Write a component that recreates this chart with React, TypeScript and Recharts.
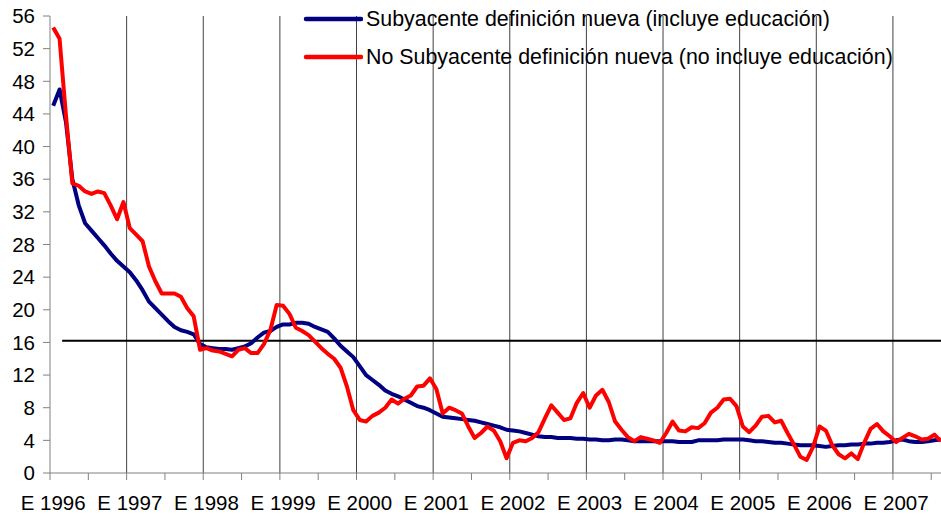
import { LineChart, Line, XAxis, YAxis, ReferenceLine, Legend } from 'recharts'

// Inflación anual (%), mensual desde enero 1996
const years = [1996, 1997, 1998, 1999, 2000, 2001, 2002, 2003, 2004, 2005, 2006, 2007]

const seriesNames = [
  'Subyacente definición nueva (incluye educación)',
  'No Subyacente definición nueva (no incluye educación)',
]

const subyacente = [
  45.0, 47.0, 43.0, 36.0, 32.8, 30.6, 29.7, 28.8, 27.9, 26.9, 26.0, 25.3,
  24.6, 23.6, 22.4, 21.0, 20.2, 19.4, 18.6, 17.9, 17.5, 17.3, 17.0, 15.8,
  15.4, 15.3, 15.2, 15.2, 15.1, 15.3, 15.5, 15.9, 16.6, 17.2, 17.4, 17.9,
  18.2, 18.2, 18.4, 18.4, 18.3, 17.9, 17.6, 17.3, 16.5, 15.6, 14.9, 14.2,
  13.1, 12.0, 11.4, 10.8, 10.1, 9.7, 9.4, 9.0, 8.6, 8.2, 8.0, 7.7,
  7.3, 6.9, 6.8, 6.7, 6.6, 6.5, 6.4, 6.2, 6.0, 5.8, 5.6, 5.3,
  5.2, 5.1, 4.9, 4.7, 4.5, 4.4, 4.4, 4.3, 4.3, 4.3, 4.2, 4.2,
  4.1, 4.1, 4.0, 4.0, 4.1, 4.1, 4.0, 3.9, 3.9, 3.9, 3.9, 3.9,
  3.9, 3.9, 3.8, 3.8, 3.8, 4.0, 4.0, 4.0, 4.0, 4.1, 4.1, 4.1,
  4.1, 4.0, 3.9, 3.9, 3.8, 3.7, 3.7, 3.6, 3.5, 3.4, 3.4, 3.4,
  3.3, 3.2, 3.3, 3.4, 3.4, 3.5, 3.5, 3.6, 3.6, 3.7, 3.7, 3.8,
  4.0, 4.1, 3.9, 3.8, 3.8, 3.9, 4.0, 4.1,
]

const noSubyacente = [
  54.6, 53.2, 43.8, 35.5, 35.2, 34.5, 34.2, 34.5, 34.3, 32.8, 31.1, 33.2,
  30.0, 29.2, 28.4, 25.3, 23.5, 22.0, 22.0, 22.0, 21.6, 20.2, 19.2, 15.1,
  15.3, 15.0, 14.9, 14.6, 14.3, 15.1, 15.3, 14.7, 14.7, 15.8, 17.5, 20.6,
  20.5, 19.5, 17.8, 17.4, 16.9, 16.1, 15.3, 14.6, 14.0, 12.9, 10.6, 7.7,
  6.5, 6.3, 7.0, 7.4, 8.0, 9.0, 8.5, 9.1, 9.5, 10.6, 10.7, 11.6,
  10.3, 7.3, 8.0, 7.7, 7.3, 5.7, 4.3, 4.9, 5.7, 5.2, 3.9, 1.8,
  3.7, 4.0, 3.9, 4.3, 5.0, 6.7, 8.3, 7.4, 6.5, 6.7, 8.6, 9.8,
  8.0, 9.5, 10.2, 8.7, 6.3, 5.3, 4.4, 3.9, 4.4, 4.2, 4.0, 3.7,
  4.9, 6.3, 5.2, 5.1, 5.6, 5.5, 6.1, 7.4, 8.0, 9.0, 9.1, 8.2,
  5.7, 5.0, 5.8, 6.9, 7.0, 6.2, 6.4, 4.9, 3.5, 2.0, 1.6, 3.2,
  5.7, 5.2, 3.4, 2.3, 1.8, 2.4, 1.7, 3.7, 5.4, 6.0, 5.1, 4.5,
  3.8, 4.3, 4.8, 4.5, 4.1, 4.2, 4.7, 3.9,
]

const yTicks = [0, 4, 8, 12, 16, 20, 24, 28, 32, 36, 40, 44, 48, 52, 56]
const targetLevel = 16.2
const targetFrom = 1.9

const monthsShown = subyacente.length
const data = subyacente.map((v, i) => ({ mes: i + 0.5, sub: v, noSub: noSubyacente[i] }))
const yearStarts = years.map((_, k) => k * 12)
const halfYearTicks = Array.from({ length: Math.floor((monthsShown - 1) / 6) + 1 }, (_, k) => k * 6)
const xTicks = [...halfYearTicks, ...yearStarts.map((m) => m + 0.5)].sort((a, b) => a - b)

const font = 'Arial, "Liberation Sans", sans-serif'

function MonthTick(props: any) {
  const { x, y, payload } = props
  const v = payload.value
  if (Number.isInteger(v)) {
    return <line x1={x} x2={x} y1={y} y2={y + 7} stroke="#808080" />
  }
  return (
    <text x={x} y={y + 37} textAnchor="middle" fontSize={20.5} fontFamily={font} fill="#000">
      {'E ' + years[Math.floor(v / 12)]}
    </text>
  )
}

function renderLegend(props: any) {
  const items = [...props.payload].sort(
    (a: any, b: any) => seriesNames.indexOf(a.value) - seriesNames.indexOf(b.value)
  )
  return (
    <div style={{ fontFamily: font, fontSize: 21.4, color: '#000' }}>
      {items.map((entry: any) => (
        <div key={entry.value} style={{ display: 'flex', alignItems: 'center', height: 38, whiteSpace: 'nowrap' }}>
          <svg width={60} height={10}>
            <line x1={3} x2={58} y1={5} y2={5} stroke={entry.color} strokeWidth={4.5} strokeLinecap="round" />
          </svg>
          <span style={{ marginLeft: 3 }}>{entry.value}</span>
        </div>
      ))}
    </div>
  )
}

export default function App() {
  return (
    <div style={{ position: 'absolute', left: 0, top: 0, width: 941, height: 516, overflow: 'hidden', background: '#fff' }}>
      <LineChart width={944} height={516} data={data} margin={{ top: 16, right: 0, left: 0, bottom: 0 }}>
        <XAxis
          dataKey="mes"
          type="number"
          domain={[0, monthsShown]}
          ticks={xTicks}
          interval={0}
          height={43}
          tickSize={0}
          tickMargin={0}
          tickLine={false}
          axisLine={{ stroke: '#808080' }}
          tick={MonthTick}
          allowDataOverflow
        />
        <YAxis
          domain={[0, 56]}
          ticks={yTicks}
          interval={0}
          width={50}
          tickSize={7}
          tickMargin={8}
          axisLine={{ stroke: '#808080' }}
          tickLine={{ stroke: '#808080' }}
          tick={{ fill: '#000', fontSize: 20.5, fontFamily: font }}
        />
        {yearStarts.slice(1).map((m) => (
          <ReferenceLine key={m} x={m} stroke="#404040" strokeWidth={1} />
        ))}
        <ReferenceLine
          segment={[{ x: targetFrom, y: targetLevel }, { x: monthsShown, y: targetLevel }]}
          stroke="#000"
          strokeWidth={2}
        />
        <Legend
          layout="vertical"
          align="center"
          verticalAlign="middle"
          wrapperStyle={{ position: 'absolute', top: 0, left: 303, width: 640 }}
          content={renderLegend}
        />
        <Line
          dataKey="sub"
          name={seriesNames[0]}
          type="linear"
          stroke="#000080"
          strokeWidth={4}
          strokeLinejoin="round"
          dot={false}
          activeDot={false}
          isAnimationActive={false}
        />
        <Line
          dataKey="noSub"
          name={seriesNames[1]}
          type="linear"
          stroke="#ff0000"
          strokeWidth={4}
          strokeLinejoin="round"
          dot={false}
          activeDot={false}
          isAnimationActive={false}
        />
      </LineChart>
    </div>
  )
}
